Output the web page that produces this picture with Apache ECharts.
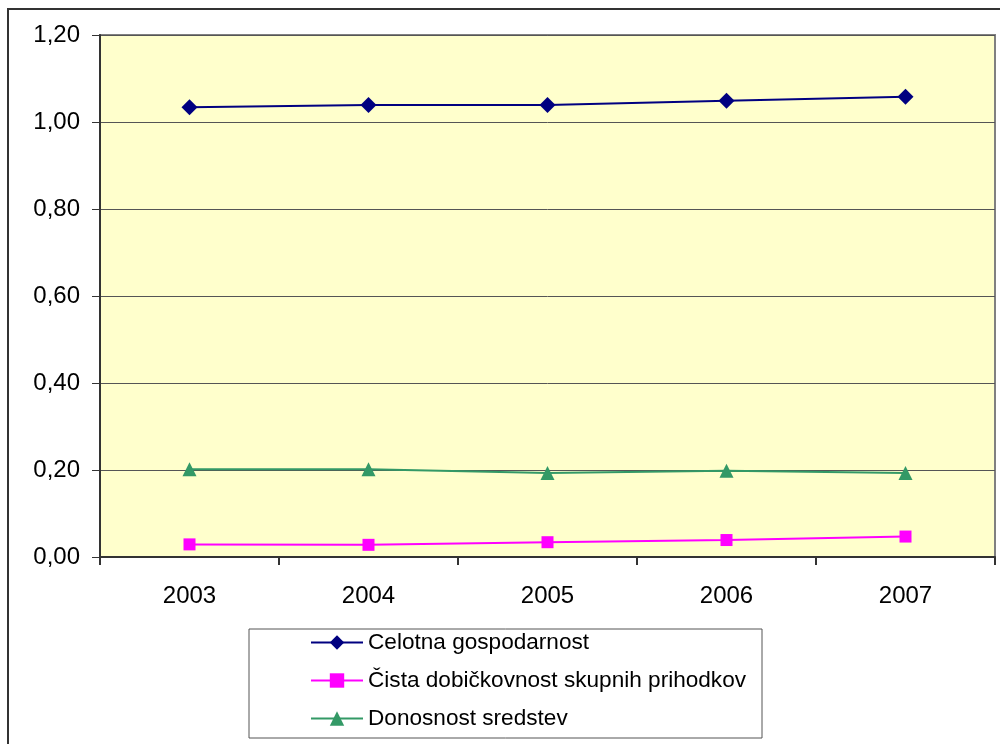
<!DOCTYPE html>
<html><head><meta charset="utf-8">
<script src="https://cdn.jsdelivr.net/npm/echarts@6/dist/echarts.min.js"></script>
<style>html,body{margin:0;padding:0;background:#fff}#c{width:1000px;height:744px}</style>
</head><body><div id="c"></div>
<script>
const years = ['2003','2004','2005','2006','2007'];
const celotna = [1.034, 1.039, 1.039, 1.049, 1.058];
const cista = [0.029, 0.028, 0.034, 0.039, 0.047];
const donosnost = [0.202, 0.202, 0.193, 0.198, 0.193];
const names = ['Celotna gospodarnost','Čista dobičkovnost skupnih prihodkov','Donosnost sredstev'];
const yTicks = {min:0, max:1.2, interval:0.2};

const chart = echarts.init(document.getElementById('c'), null, {renderer:'canvas'});
const font = 'Liberation Sans, Arial, sans-serif';
function mk(name, data, color, symbol, size){
  return {name, type:'line', data, color, symbol, symbolSize:size, showSymbol:true,
    lineStyle:{color, width:2}, itemStyle:{color}, animation:false};
}
chart.setOption({
  animation:false,
  textStyle:{fontFamily:font},
  graphic:[
    {type:'rect', shape:{x:8,y:9,width:1000,height:760}, style:{fill:'none', stroke:'#333', lineWidth:2}, z:-10},
    {type:'rect', shape:{x:249,y:629,width:513,height:109}, style:{fill:'#fff', stroke:'#555', lineWidth:1}, z:-5}
  ],
  grid:{left:100, top:35, right:5, bottom:187, show:true, backgroundColor:'#FFFFCC', borderColor:'#808080', borderWidth:2},
  xAxis:{type:'category', data:years, boundaryGap:true,
    axisLine:{lineStyle:{color:'#333', width:2}},
    axisTick:{show:true, length:8, lineStyle:{color:'#333', width:2}},
    axisLabel:{fontSize:24, color:'#000', margin:27, fontFamily:font}},
  yAxis:{type:'value', min:yTicks.min, max:yTicks.max, interval:yTicks.interval,
    axisLine:{show:true, lineStyle:{color:'#333', width:2}},
    axisTick:{show:true, length:8, lineStyle:{color:'#333', width:1}},
    splitLine:{show:true, lineStyle:{color:'#555', width:1}},
    axisLabel:{fontSize:24, color:'#000', margin:20, fontFamily:font,
      formatter:v=>v.toFixed(2).replace('.',',')}},
  legend:{orient:'vertical', left:305, top:626, itemWidth:52, itemHeight:18, itemGap:15,
    textStyle:{fontSize:22.6, color:'#000', fontFamily:font, padding:[0,0,0,0]},
    data:names},
  series:[
    mk(names[0], celotna, '#000080', 'diamond', 16),
    mk(names[1], cista, '#FF00FF', 'rect', 12),
    mk(names[2], donosnost, '#339966', 'triangle', 14)
  ]
});
</script></body></html>
